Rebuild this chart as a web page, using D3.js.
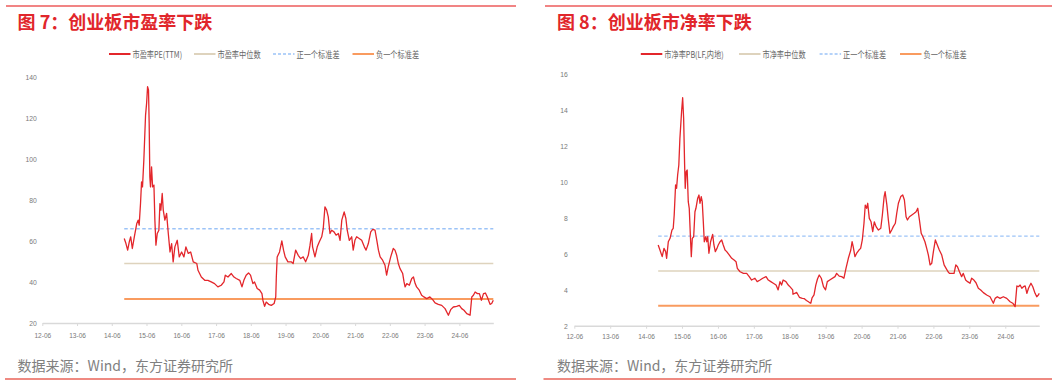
<!DOCTYPE html>
<html><head><meta charset="utf-8">
<script src="https://cdn.jsdelivr.net/npm/d3@7/dist/d3.min.js"></script>
<style>body{margin:0;background:#fff}svg{display:block}</style>
</head><body>
<svg id="c" width="1061" height="382"></svg>
<script>
// ---------- data ----------
const tickLabels = ["12-06","13-06","14-06","15-06","16-06","17-06","18-06","19-06","20-06","21-06","22-06","23-06","24-06"];
const peYTicks = [20,40,60,80,100,120,140];
const pbYTicks = [2,4,6,8,10,12,14,16];

const peDates = ["2014-10-10","2014-10-28","2014-11-15","2014-12-02","2014-12-17","2015-01-03","2015-01-24","2015-02-19","2015-03-05","2015-03-16",
"2015-03-30","2015-04-10","2015-04-20","2015-05-04","2015-05-22","2015-06-02","2015-06-12","2015-06-22","2015-06-29","2015-07-06",
"2015-07-13","2015-07-24","2015-08-04","2015-08-18","2015-08-28","2015-09-08","2015-09-22","2015-10-09","2015-10-20","2015-10-30",
"2015-11-13","2015-11-24","2015-12-11","2015-12-29","2016-01-16","2016-02-03","2016-02-20","2016-03-07","2016-03-25","2016-04-19",
"2016-05-10","2016-06-04","2016-06-28","2016-07-19","2016-08-13","2016-09-07","2016-10-04","2016-11-10","2016-11-23","2016-12-28",
"2017-02-02","2017-03-07","2017-04-11","2017-05-16","2017-06-20","2017-07-25","2017-08-23","2017-09-06","2017-10-04","2017-11-08",
"2017-12-06","2017-12-30","2018-02-05","2018-02-28","2018-03-20","2018-04-13","2018-05-08","2018-05-29","2018-06-23","2018-07-10",
"2018-08-07","2018-09-02","2018-09-26","2018-10-06","2018-10-24","2018-11-10","2018-12-05","2019-01-02","2019-02-01","2019-02-18",
"2019-02-24","2019-03-05","2019-03-30","2019-04-23","2019-05-11","2019-05-28","2019-06-26","2019-07-30","2019-08-20","2019-09-15",
"2019-10-12","2019-11-07","2019-12-04","2019-12-29","2020-01-26","2020-02-13","2020-03-01","2020-03-11","2020-04-05","2020-04-29",
"2020-05-20","2020-06-15","2020-07-01","2020-07-19","2020-08-06","2020-08-23","2020-09-10","2020-09-28","2020-10-22","2020-11-13",
"2020-12-07","2020-12-25","2021-01-12","2021-02-06","2021-02-24","2021-03-10","2021-04-01","2021-04-26","2021-05-12","2021-05-30",
"2021-06-17","2021-07-14","2021-08-09","2021-09-06","2021-09-24","2021-10-18","2021-11-12","2021-12-03","2021-12-27","2022-01-15",
"2022-02-01","2022-02-19","2022-03-17","2022-04-11","2022-04-28","2022-05-15","2022-06-10","2022-07-07","2022-07-25","2022-08-12",
"2022-08-29","2022-09-16","2022-10-14","2022-10-28","2022-11-08","2022-11-26","2022-12-23","2023-01-17","2023-02-04","2023-02-22",
"2023-03-09","2023-04-06","2023-05-01","2023-05-25","2023-06-23","2023-07-27","2023-08-25","2023-09-19","2023-10-23","2023-11-28",
"2024-01-02","2024-02-06","2024-03-01","2024-03-29","2024-05-03","2024-05-31","2024-06-25","2024-07-19","2024-08-17","2024-09-21",
"2024-10-09","2024-10-26","2024-11-13","2024-12-07","2024-12-28","2025-01-18","2025-02-09","2025-03-01","2025-03-21","2025-04-19",
"2025-05-06","2025-05-23"];
const peValues = [61.2,58.7,55.5,59.5,62,56.3,62,68.5,70.1,67.7,
78.2,88.8,86.3,99.4,121.3,127,135.1,133.5,117.3,91.2,
86.3,96.1,86.3,87.2,70.1,57.9,63.6,65.2,78.2,75,
83.1,75,70.1,73.4,63.6,54.6,58.7,49.8,57.1,60.3,
52.2,54.6,52.2,57.1,53.9,54.6,49.8,49,45.7,42.4,
40.8,40.8,40,39.2,37.6,38.4,40,43.3,42.4,44.1,
42.4,41.7,40.8,37.6,40.8,43.3,44.4,43.3,39.2,40,
36.8,36,34.3,31.1,28.1,30.2,29.1,28.6,29.5,32.7,
42.4,52.2,54.6,60,55.5,52.2,49.8,49.8,49,55.5,
53,51.4,52.2,49.8,53,57.9,63.6,57.1,52.2,57.1,
59.5,62,66,76.6,75,71.7,63.6,65.2,64.4,62.8,
63.6,60.3,70.1,74.1,70.9,65.2,60.3,62,55.5,60.3,
62,61.2,60.3,57.1,55.5,58.7,64.4,65.6,65.2,60.3,
55.5,52.2,50.6,48.1,43.3,47.3,52.2,56.3,55.5,53,
49,46.5,44.1,40,37.6,39.2,38.4,41.7,42.4,39.2,
37.6,36,33.5,32.7,31.9,32.7,31.4,29.8,29.1,28.6,
27,23.8,26.5,27.8,28.1,28.6,27,26.2,24.6,23.8,
32.7,33.5,35.1,34.3,34.3,31.1,34.3,34.6,32.7,29.1,
29.5,31.1];
const peMedian = 49.0, pePlusStd = 65.9, peMinusStd = 31.7;

const pbDates = ["2014-10-02","2014-10-20","2014-11-12","2014-11-30","2014-12-17","2014-12-27","2015-01-13","2015-01-31","2015-02-19","2015-03-04",
"2015-03-14","2015-03-28","2015-04-07","2015-04-18","2015-04-30","2015-05-11","2015-05-28","2015-06-08","2015-06-18","2015-06-28",
"2015-07-04","2015-07-14","2015-07-24","2015-08-04","2015-08-14","2015-08-28","2015-09-04","2015-09-14","2015-09-28","2015-10-11",
"2015-10-21","2015-11-08","2015-11-21","2015-12-01","2015-12-14","2015-12-24","2016-01-04","2016-01-14","2016-01-29","2016-02-08",
"2016-02-18","2016-03-01","2016-03-18","2016-04-08","2016-04-21","2016-05-05","2016-05-22","2016-06-04","2016-06-22","2016-07-09",
"2016-07-25","2016-08-12","2016-08-29","2016-09-25","2016-10-19","2016-11-12","2016-12-02","2016-12-15","2017-01-12","2017-02-15",
"2017-03-20","2017-04-15","2017-05-09","2017-06-12","2017-07-05","2017-08-03","2017-08-30","2017-10-03","2017-10-26","2017-11-20",
"2017-12-16","2018-01-13","2018-02-03","2018-02-22","2018-03-10","2018-03-26","2018-04-23","2018-05-17","2018-05-29","2018-07-01",
"2018-07-04","2018-08-11","2018-09-07","2018-10-07","2018-10-28","2018-11-18","2018-12-16","2019-01-01","2019-01-14","2019-02-03",
"2019-02-21","2019-03-10","2019-03-28","2019-04-18","2019-05-10","2019-05-31","2019-06-18","2019-07-13","2019-09-04","2019-09-21",
"2019-10-17","2019-11-11","2019-12-04","2019-12-25","2020-01-18","2020-02-12","2020-02-25","2020-03-08","2020-03-25","2020-04-12",
"2020-05-05","2020-05-22","2020-06-08","2020-06-25","2020-07-08","2020-07-22","2020-08-02","2020-08-18","2020-09-05","2020-09-22",
"2020-10-08","2020-10-26","2020-11-19","2020-12-13","2020-12-29","2021-01-16","2021-01-26","2021-02-13","2021-02-28","2021-03-16",
"2021-04-03","2021-04-19","2021-05-10","2021-05-24","2021-06-10","2021-07-04","2021-07-24","2021-08-10","2021-08-27","2021-09-10",
"2021-09-30","2021-10-25","2021-11-18","2021-12-07","2021-12-24","2022-01-10","2022-01-28","2022-02-14","2022-03-07","2022-03-25",
"2022-04-11","2022-04-28","2022-05-15","2022-06-01","2022-06-21","2022-07-11","2022-07-31","2022-08-25","2022-09-18","2022-10-08",
"2022-10-28","2022-11-11","2022-12-05","2022-12-28","2023-01-15","2023-02-01","2023-02-21","2023-03-15","2023-04-01","2023-04-25",
"2023-05-15","2023-06-08","2023-06-25","2023-07-18","2023-08-08","2023-09-01","2023-09-25","2023-10-22","2023-11-25","2023-12-29",
"2024-02-01","2024-02-19","2024-03-12","2024-04-09","2024-05-12","2024-06-16","2024-07-20","2024-08-16","2024-09-09","2024-09-27",
"2024-10-13","2024-10-30","2024-11-16","2024-12-03","2024-12-20","2025-01-07","2025-01-23","2025-02-17","2025-03-08","2025-03-31",
"2025-04-17","2025-05-03","2025-05-13"];
const pbValues = [6.49,6.21,5.84,6.30,6.12,5.75,6.67,6.86,7.32,7.42,
8.16,9.83,9.64,10.38,10.94,12.42,13.90,14.68,13.53,10.94,
9.64,10.57,10.66,8.90,8.53,6.67,5.84,6.86,6.95,8.34,
8.53,9.09,9.27,8.81,9.18,8.90,7.78,6.67,6.95,6.67,
6.95,6.03,6.67,7.08,6.49,6.12,6.30,6.49,6.67,6.77,
6.49,6.21,6.12,5.93,5.75,5.65,5.56,5.19,5.00,4.91,
4.91,4.73,4.54,4.64,4.45,4.54,4.64,4.73,4.54,4.45,
4.36,4.26,3.99,4.45,4.26,4.54,4.45,4.26,4.20,3.99,
3.75,3.85,3.58,3.52,3.50,3.40,3.30,3.25,3.55,3.71,
4.26,4.60,4.82,4.64,4.17,3.99,4.45,4.54,4.73,4.91,
4.76,4.73,4.64,5.19,5.75,6.21,6.67,6.39,5.84,6.03,
6.21,6.30,6.77,7.70,8.71,8.53,8.81,7.97,7.78,7.23,
7.78,7.51,7.32,7.42,8.16,9.18,9.45,8.71,7.88,7.14,
7.32,7.51,7.70,8.25,8.81,9.18,9.27,8.99,8.06,7.88,
8.06,8.16,8.25,8.34,8.53,7.88,7.14,6.95,6.67,6.30,
5.93,5.38,5.47,6.12,6.77,6.49,6.21,5.93,5.38,5.19,
5.00,4.91,4.91,4.91,5.38,5.28,5.00,4.73,4.91,4.54,
4.45,4.36,4.64,4.54,4.39,4.08,3.99,3.84,3.71,3.61,
3.25,3.52,3.61,3.52,3.61,3.52,3.33,3.25,3.06,4.21,
4.17,4.26,4.08,4.17,4.21,3.80,4.08,4.36,4.17,3.80,
3.61,3.71,3.80];
const pbMedian = 5.04, pbPlusStd = 6.98, pbMinusStd = 3.11;

// ---------- drawing ----------
const parse = d3.timeParse("%Y-%m-%d");
const tickParse = d3.timeParse("%y-%m");
const tickDates = tickLabels.map(t => tickParse(t));
const svg = d3.select("#c");
const CJK = "'Noto Sans CJK SC','Noto Sans',sans-serif";
const NUM = "'Liberation Sans',Arial,sans-serif";

function condensedText(g, x, y, txt, opts) {
  return g.append("text")
    .attr("transform", `translate(${x},${y}) scale(${opts.sx},1)`)
    .attr("font-family", opts.family).attr("font-size", opts.size)
    .attr("fill", opts.fill).attr("dominant-baseline", "central")
    .attr("text-anchor", opts.anchor || "start").text(txt);
}

function panel(cfg) {
  const g = svg.append("g");
  // header & footer rules
  g.append("line").attr("x1", cfg.topRule[0]).attr("x2", cfg.topRule[1]).attr("y1", 6).attr("y2", 6)
    .attr("stroke", "#ec5b5b").attr("stroke-width", 1.5);
  g.append("line").attr("x1", cfg.botRule[0]).attr("x2", cfg.botRule[1]).attr("y1", 379).attr("y2", 379)
    .attr("stroke", "#ef8a82").attr("stroke-width", 2);
  g.append("text").attr("x", cfg.titleX).attr("y", 20.8).attr("dominant-baseline", "central")
    .attr("font-family", CJK).attr("font-weight", "bold").attr("font-size", 18)
    .attr("fill", "#e1262b").text(cfg.title);
  g.append("text").attr("x", cfg.titleX).attr("y", 364.5).attr("dominant-baseline", "central")
    .attr("font-family", CJK).attr("font-size", 14).attr("fill", "#808080")
    .text("数据来源：Wind，东方证券研究所");

  const x = d3.scaleTime().domain([parse("2012-06-01"), parse(cfg.end)]).range([cfg.x0, cfg.x1]);
  const y = d3.scaleLinear().domain(cfg.yDomain).range([cfg.yb, cfg.yt]);

  // x axis
  const gx = g.append("g").attr("transform", `translate(0,${cfg.yb})`)
    .call(d3.axisBottom(x).tickValues(tickDates).tickFormat((d, i) => tickLabels[i]).tickSize(3).tickSizeOuter(0));
  gx.select(".domain").attr("stroke", "#d9d9d9").attr("stroke-width", 1.5);
  gx.selectAll(".tick line").attr("stroke", "#d9d9d9");
  gx.selectAll(".tick text").attr("fill", "#7a7a7a").attr("font-size", 8).attr("font-family", NUM)
    .attr("y", cfg.xLabelY).attr("dy", "0.35em").attr("transform", "scale(0.82,1)");

  // y axis labels
  const gy = g.append("g").attr("transform", `translate(${cfg.yLabelX},0)`)
    .call(d3.axisLeft(y).tickValues(cfg.yTicks).tickSize(0).tickPadding(0));
  gy.select(".domain").remove();
  gy.selectAll(".tick text").attr("fill", "#7a7a7a").attr("font-size", 8).attr("font-family", NUM)
    .attr("x", 0).attr("transform", "scale(0.85,1)");

  // reference lines
  const start = parse(cfg.dates[0]);
  const refs = [
    {v: cfg.minus, c: "#f99b5f", w: 2, dash: null},
    {v: cfg.median, c: "#ded3bd", w: 1.6, dash: null},
    {v: cfg.plus, c: "#9cc3f7", w: 1.4, dash: "3.5,2.5"}
  ];
  refs.forEach(r => {
    g.append("line").attr("x1", x(start)).attr("x2", cfg.x1).attr("y1", y(r.v)).attr("y2", y(r.v))
      .attr("stroke", r.c).attr("stroke-width", r.w).attr("stroke-dasharray", r.dash);
  });

  // main series
  const data = d3.zip(cfg.dates, cfg.values).map(([d, v]) => ({d: parse(d), v}));
  g.append("path").datum(data)
    .attr("d", d3.line().x(p => x(p.d)).y(p => y(p.v)))
    .attr("fill", "none").attr("stroke", "#e3262b").attr("stroke-width", 1.3).attr("stroke-linejoin", "round");

  // legend
  const items = [
    {t: cfg.legend[0], c: "#e3262b", w: 2, dash: null},
    {t: cfg.legend[1], c: "#ded3bd", w: 2, dash: null},
    {t: cfg.legend[2], c: "#9cc3f7", w: 1.5, dash: "3,2"},
    {t: cfg.legend[3], c: "#f99b5f", w: 2, dash: null}
  ];
  items.forEach((it, i) => {
    const lx = cfg.legendX[i];
    g.append("line").attr("x1", lx).attr("x2", lx + 21.5).attr("y1", 54).attr("y2", 54)
      .attr("stroke", it.c).attr("stroke-width", it.w).attr("stroke-dasharray", it.dash);
    condensedText(g, lx + 23.5, 54, it.t, {sx: 0.8, family: CJK, size: 9, fill: "#666"});
  });
}

panel({
  title: "图 7：创业板市盈率下跌", titleX: 17.6,
  topRule: [6, 516], botRule: [5, 516],
  x0: 42.3, x1: 493.3, end: "2025-05-23", yb: 323, yt: 76.7 + (322.7 - 323) * 0, yDomain: [20, 140],
  yTicks: peYTicks, yLabelX: 36.7, xLabelY: 12.3,
  dates: peDates, values: peValues, median: peMedian, plus: pePlusStd, minus: peMinusStd,
  legend: ["市盈率PE(TTM)", "市盈率中位数", "正一个标准差", "负一个标准差"],
  legendX: [109, 194, 273, 352.5]
});
panel({
  title: "图 8：创业板市净率下跌", titleX: 557,
  topRule: [545, 1052], botRule: [543.5, 1052],
  x0: 574.3, x1: 1039.3, end: "2025-05-13", yb: 325.7, yt: 74, yDomain: [2, 16],
  yTicks: pbYTicks, yLabelX: 567.7, xLabelY: 11,
  dates: pbDates, values: pbValues, median: pbMedian, plus: pbPlusStd, minus: pbMinusStd,
  legend: ["市净率PB(LF,内地)", "市净率中位数", "正一个标准差", "负一个标准差"],
  legendX: [640.8, 739, 819.6, 900]
});
</script>
</body></html>
